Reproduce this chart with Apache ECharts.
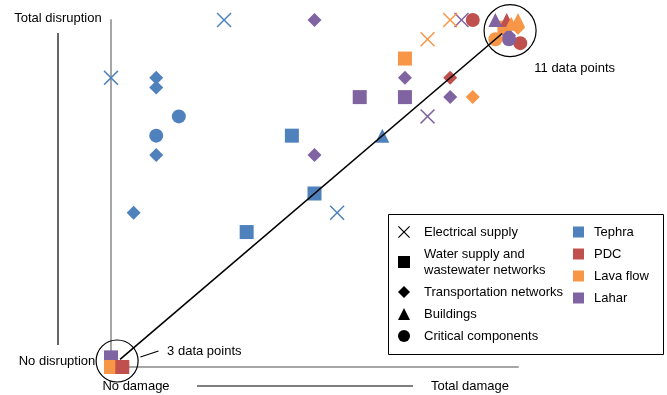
<!DOCTYPE html>
<html>
<head>
<meta charset="utf-8">
<script src="https://cdn.jsdelivr.net/npm/echarts@6/dist/echarts.min.js"></script>
<style>html,body{margin:0;padding:0;background:#fff;}#c{width:667px;height:395px;}</style>
</head>
<body>
<div id="c"></div>
<script>
// ---- data (x = damage, y = disruption, hazard) ----
const hazards = ['Tephra', 'PDC', 'Lava flow', 'Lahar'];
const electricalSupply = [
  [0, 15, 'Tephra'], [5, 18, 'Tephra'], [10, 8, 'Tephra'],
  [14, 13, 'Lahar'], [15.5, 18, 'Lahar'],
  [15, 18, 'Lava flow'], [14, 17, 'Lava flow']
];
const waterSupply = [
  [6, 7, 'Tephra'], [8, 12, 'Tephra'], [9, 9, 'Tephra'],
  [11, 14, 'Lahar'], [13, 14, 'Lahar'],
  [13, 16, 'Lava flow'],
  [0, 0.5, 'Lahar'], [0, 0, 'Lava flow'], [0.5, 0, 'PDC'],
  [17.4, 17.6, 'Lava flow']
];
const transportation = [
  [2, 15, 'Tephra'], [2, 14.5, 'Tephra'], [2, 11, 'Tephra'], [1, 8, 'Tephra'],
  [9, 18, 'Lahar'], [9, 11, 'Lahar'], [13, 15, 'Lahar'], [15, 14, 'Lahar'],
  [15, 15, 'PDC'],
  [16, 14, 'Lava flow'],
  [17.6, 17.2, 'Lahar'], [18, 17.6, 'Lava flow']
];
const buildings = [
  [17.5, 18, 'PDC'], [12, 12, 'Tephra'],
  [17, 18, 'Lahar'], [18, 18, 'Lava flow'], [17.7, 17.8, 'Lava flow']
];
const criticalComponents = [
  [3, 13, 'Tephra'], [2, 12, 'Tephra'],
  [16, 18, 'PDC'],
  [18.1, 16.8, 'PDC'], [17.6, 17, 'Lahar'], [17, 17, 'Lava flow']
];
const shapeNames = ['Electrical supply', 'Water supply and wastewater networks', 'Transportation networks', 'Buildings', 'Critical components'];
const equalityLine = [[0.4, 0.4], [17.3, 17.3]];
const groupCircles = [[0.27, 0.31], [17.65, 17.45]];
const leaderSmall = [[1.3, 0.52], [2.1, 0.83]];
const leaderLarge = [[18.45, 16.8], [18.9, 16.2]];
const annotations = [[2.48, 0.83, '3 data points'], [18.72, 15.5, '11 data points']];
const axisEnds = { xMin: 0, xMax: 18, yMin: 0, yMax: 18 };

// ---- styles ----
const hazardColors = { 'Tephra': '#4F81BD', 'PDC': '#C0504D', 'Lava flow': '#F79646', 'Lahar': '#8064A2' };
const crossPath = 'path://M0,7 L7,0 L50,43 L93,0 L100,7 L57,50 L100,93 L93,100 L50,57 L7,100 L0,93 L43,50 Z';
const shapeSymbols = [crossPath, 'rect', 'diamond', 'triangle', 'circle'];
const shapeData = [electricalSupply, waterSupply, transportation, buildings, criticalComponents];
const FONT = 'Liberation Sans, Arial, sans-serif';
const FS = 13;

const chart = echarts.init(document.getElementById('c'));
const series = [];
shapeNames.forEach((n, i) => {
  series.push({
    name: n, type: 'scatter', clip: false, z: 3,
    symbol: shapeSymbols[i], symbolSize: i === 0 ? 15 : 14,
    data: shapeData[i].map(d => ({ value: [d[0], d[1]], itemStyle: { color: hazardColors[d[2]] } })),
    itemStyle: { opacity: 1 },
    emphasis: { disabled: true }
  });
});
hazards.forEach(h => {
  series.push({ name: h, type: 'scatter', data: [], itemStyle: { color: hazardColors[h], opacity: 1 } });
});
series.push({
  name: 'equality', type: 'line', data: equalityLine, symbol: 'none', clip: false, z: 5,
  lineStyle: { color: '#000', width: 1.6 }, emphasis: { disabled: true }
});
series.push({
  name: 'groups', type: 'scatter', data: groupCircles, clip: false, z: 5,
  symbol: 'circle', symbolSize: (v, p) => p.dataIndex === 0 ? 42 : 52,
  itemStyle: { color: 'rgba(0,0,0,0)', borderColor: '#000', borderWidth: 1.2, opacity: 1 },
  emphasis: { disabled: true }
});
[leaderSmall, leaderLarge].forEach((seg, i) => series.push({
  name: 'leader' + i, type: 'line', data: seg, symbol: 'none', clip: false, z: 5,
  lineStyle: { color: '#000', width: 1.2 }, emphasis: { disabled: true }
}));
series.push({
  name: 'notes', type: 'scatter', clip: false, z: 6,
  data: annotations.map(a => ({ value: [a[0], a[1]], label: { formatter: a[2] } })),
  symbolSize: 0, itemStyle: { color: '#000', opacity: 1 },
  label: { show: true, position: 'right', distance: 0, color: '#000', opacity: 1, fontSize: FS, fontFamily: FONT, textBorderWidth: 0 },
  emphasis: { disabled: true }
});

chart.setOption({
  animation: false,
  backgroundColor: '#fff',
  grid: { left: 111, right: 149, top: 20, bottom: 28 },
  xAxis: {
    type: 'value', min: axisEnds.xMin, max: axisEnds.xMax,
    axisLine: { show: true, onZero: false, lineStyle: { color: '#A6A6A6', width: 2 } },
    axisTick: { show: false }, axisLabel: { show: false }, splitLine: { show: false }
  },
  yAxis: {
    type: 'value', min: axisEnds.yMin, max: axisEnds.yMax,
    axisLine: { show: true, onZero: false, lineStyle: { color: '#A6A6A6', width: 2 } },
    axisTick: { show: false }, axisLabel: { show: false }, splitLine: { show: false }
  },
  legend: [
    {
      orient: 'vertical', left: 393, top: 219, itemGap: 6, itemWidth: 12, itemHeight: 12,
      selectedMode: false,
      data: shapeNames.map((n, i) => ({ name: n, icon: shapeSymbols[i], itemStyle: { color: '#000' } })),
      formatter: n => n === 'Water supply and wastewater networks' ? 'Water supply and\nwastewater networks' : n,
      textStyle: { fontSize: FS, color: '#000', fontFamily: FONT, lineHeight: 16, padding: [0, 0, 0, 9] }
    },
    {
      orient: 'vertical', left: 568, top: 219, itemGap: 6, itemWidth: 11, itemHeight: 11,
      selectedMode: false, icon: 'rect',
      data: hazards,
      textStyle: { fontSize: FS, color: '#000', fontFamily: FONT, lineHeight: 16, padding: [0, 0, 0, 5] }
    }
  ],
  graphic: [
    { type: 'rect', left: 386, top: 212, shape: { width: 275, height: 140 }, style: { fill: 'none', stroke: '#000', lineWidth: 1 }, z: 1 },
    { type: 'text', x: 58, y: 18, style: { text: 'Total disruption', font: FS + 'px ' + FONT, fill: '#000', textAlign: 'center', textVerticalAlign: 'middle' } },
    { type: 'text', x: 57, y: 361, style: { text: 'No disruption', font: FS + 'px ' + FONT, fill: '#000', textAlign: 'center', textVerticalAlign: 'middle' } },
    { type: 'text', x: 136, y: 386, style: { text: 'No damage', font: FS + 'px ' + FONT, fill: '#000', textAlign: 'center', textVerticalAlign: 'middle' } },
    { type: 'text', x: 470, y: 386, style: { text: 'Total damage', font: FS + 'px ' + FONT, fill: '#000', textAlign: 'center', textVerticalAlign: 'middle' } },
    { type: 'line', shape: { x1: 58, y1: 33, x2: 58, y2: 345 }, style: { stroke: '#000', lineWidth: 1.2 } },
    { type: 'line', shape: { x1: 197, y1: 386, x2: 413, y2: 386 }, style: { stroke: '#000', lineWidth: 1.2 } }
  ],
  series: series
});
</script>
</body>
</html>
